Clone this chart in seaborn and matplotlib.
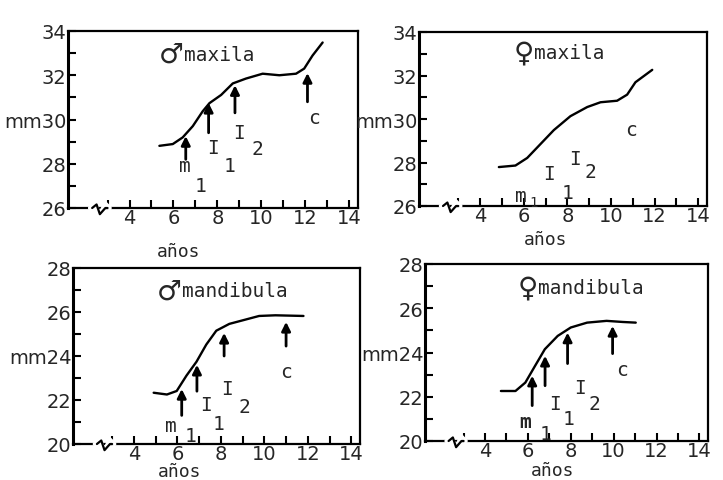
import matplotlib
matplotlib.use("Agg")
import matplotlib.pyplot as plt
import matplotlib.transforms as mtrans
import seaborn as sns
import pandas as pd

sns.set_style("ticks")
plt.rcParams['font.family'] = ['DejaVu Sans']

# ---------------- data ----------------
# male maxila
mmax_x = [5.36, 5.97, 6.42, 6.88, 7.33, 7.64, 8.17, 8.70, 9.30, 10.06, 10.82, 11.58, 11.95, 12.33, 12.79]
mmax_y = [28.81, 28.89, 29.19, 29.70, 30.37, 30.74, 31.11, 31.63, 31.85, 32.07, 32.0, 32.07, 32.3, 32.89, 33.48]
mmax_arrow_x = [6.56, 7.6, 8.8, 12.1]
mmax_arrow_base = [28.2, 29.4, 30.3, 30.8]
mmax_arrow_tip = [29.25, 30.75, 31.55, 32.1]

# female maxila
fmax_x = [4.86, 5.62, 6.16, 6.77, 7.38, 8.14, 8.91, 9.52, 10.28, 10.74, 11.12, 11.89]
fmax_y = [27.79, 27.86, 28.21, 28.85, 29.49, 30.13, 30.55, 30.77, 30.84, 31.12, 31.69, 32.26]
fmax_arrow_x = []
fmax_arrow_base = []
fmax_arrow_tip = []

# male mandibula
mman_x = [4.91, 5.52, 5.97, 6.42, 6.88, 7.33, 7.79, 8.39, 9.0, 9.76, 10.51, 11.8]
mman_y = [22.33, 22.25, 22.41, 23.11, 23.74, 24.52, 25.15, 25.46, 25.62, 25.82, 25.85, 25.82]
mman_arrow_x = [6.2, 6.9, 8.15, 11.0]
mman_arrow_base = [21.3, 22.4, 24.0, 24.45]
mman_arrow_tip = [22.5, 23.6, 25.05, 25.55]

# female mandibula
fman_x = [4.74, 5.42, 5.88, 6.33, 6.79, 7.39, 8.0, 8.76, 9.67, 10.42, 11.03]
fman_y = [22.26, 22.26, 22.64, 23.39, 24.15, 24.75, 25.13, 25.35, 25.43, 25.38, 25.35]
fman_arrow_x = [6.2, 6.8, 7.85, 9.95]
fman_arrow_base = [21.6, 22.5, 23.5, 23.95]
fman_arrow_tip = [22.95, 23.85, 24.9, 25.2]

# tooth labels (text, x, y)
label_texts = ["m", "1", "I", "1", "I", "2", "c"]
mmax_lab_x = [6.5, 7.25, 7.8, 8.55, 9.0, 9.8, 12.4]
mmax_lab_y = [27.9, 27.0, 28.75, 27.9, 29.4, 28.7, 30.1]
fmax_lab_x = [5.85, 6.45, 7.15, 8.0, 8.35, 9.05, 10.9]
fmax_lab_y = [26.5, 26.2, 27.5, 26.6, 28.2, 27.6, 29.5]
mman_lab_x = [5.7, 6.6, 7.3, 7.9, 8.3, 9.1, 11.0]
mman_lab_y = [20.85, 20.4, 21.8, 20.95, 22.5, 21.7, 23.3]
fman_lab_x = [5.85, 6.8, 7.25, 7.9, 8.45, 9.1, 10.4]
fman_lab_y = [20.9, 20.35, 21.7, 21.0, 22.4, 21.7, 23.25]

titles_symbol = ["\u2642", "\u2640", "\u2642", "\u2640"]
titles_word = ["maxila", "maxila", "mandibula", "mandibula"]

x_ticklabels = ["4", "6", "8", "10", "12", "14"]
x_ticks = [4, 6, 8, 10, 12, 14]
max_yticks = [26, 28, 30, 32, 34]
max_yticklabels = ["26", "28", "mm30", "32", "34"]
man_yticks = [20, 22, 24, 26, 28]
man_yticklabels = ["20", "22", "mm24", "26", "28"]
xlabel = "años"

# ---------------- figure ----------------
fig = plt.figure(figsize=(7.23, 4.81), dpi=100)
W, H = 723, 481
boxes = [(68, 32, 358, 209), (419, 33, 707, 207), (73, 269, 360, 445), (425, 265, 708, 442)]
xlabel_pos = [(0.38, -0.243), (0.44, -0.19), (0.37, -0.153), (0.45, -0.164)]
title_pos = [(0.40, 0.87), (0.40, 0.88), (0.38, 0.87), (0.40, 0.87)]

panels = [
    (mmax_x, mmax_y, mmax_arrow_x, mmax_arrow_base, mmax_arrow_tip, mmax_lab_x, mmax_lab_y, (26, 34), max_yticks, max_yticklabels),
    (fmax_x, fmax_y, fmax_arrow_x, fmax_arrow_base, fmax_arrow_tip, fmax_lab_x, fmax_lab_y, (26, 34), max_yticks, max_yticklabels),
    (mman_x, mman_y, mman_arrow_x, mman_arrow_base, mman_arrow_tip, mman_lab_x, mman_lab_y, (20, 28), man_yticks, man_yticklabels),
    (fman_x, fman_y, fman_arrow_x, fman_arrow_base, fman_arrow_tip, fman_lab_x, fman_lab_y, (20, 28), man_yticks, man_yticklabels),
]

for i, (cx, cy, ax_x, ab, at, lx, ly, ylim, yt, ytl) in enumerate(panels):
    l, t, r, b = boxes[i]
    ax = fig.add_axes([l / W, 1 - b / H, (r - l) / W, (b - t) / H])
    df = pd.DataFrame({"x": cx, "y": cy})
    sns.lineplot(data=df, x="x", y="y", ax=ax, color="black", lw=1.7, sort=False)
    for line in ax.lines:
        line.set_solid_joinstyle("round")
        line.set_solid_capstyle("round")
    for xa, y0, y1 in zip(ax_x, ab, at):
        ax.annotate("", xy=(xa, y1), xytext=(xa, y0),
                    arrowprops=dict(arrowstyle="-|>", color="black", lw=2.0,
                                    mutation_scale=13, shrinkA=0, shrinkB=0))
    for k, (txt, x, y) in enumerate(zip(label_texts, lx, ly)):
        small = (k == 1 and i == 1)
        ax.text(x, y, txt, ha="center", va="center", family="DejaVu Sans Mono",
                fontsize=10 if small else 14,
                fontweight="bold" if (i == 3 and k == 0) else "normal")
    tx, ty = title_pos[i]
    ax.text(tx, ty, titles_symbol[i], transform=ax.transAxes, ha="right", va="center",
            fontsize=20, fontweight="bold" if i in (0, 2) else "normal", family="DejaVu Sans")
    ax.text(tx, ty, titles_word[i], transform=ax.transAxes, ha="left", va="center",
            fontsize=14, family="DejaVu Sans Mono")

    ax.set_xlim(1.2, 14.4)
    ax.set_ylim(*ylim)
    ax.set_xticks(x_ticks)
    ax.set_xticklabels(x_ticklabels)
    ax.set_xticks(list(range(3, 15)), minor=True)
    ax.set_yticks(yt)
    ax.set_yticklabels(ytl)
    ax.set_yticks(list(range(ylim[0] + 1, ylim[1], 2)), minor=True)
    ax.tick_params(axis="both", which="both", direction="in", width=1.5, color="black",
                   labelsize=14, pad=1, length=6)
    ax.tick_params(axis="x", which="major", pad=0)
    ax.set_xlabel(xlabel, fontsize=13, family="DejaVu Sans Mono")
    ax.xaxis.label.set_va("center")
    ax.xaxis.set_label_coords(*xlabel_pos[i])
    ax.set_ylabel("")
    for s in ax.spines.values():
        s.set_linewidth(1.6)
        s.set_color("black")
        s.set_visible(True)
    ax.spines["left"].set_linewidth(2.2)
    # axis break mark
    trans = mtrans.blended_transform_factory(ax.transData, ax.transAxes)
    ax.plot([2.2, 2.5, 2.65, 2.9, 3.1], [0, 0, -0.035, 0.025, 0], transform=trans,
            color="white", lw=3, clip_on=False, zorder=5)
    ax.plot([2.3, 2.5, 2.65, 2.9, 3.0], [0, 0.02, -0.035, 0.0, 0.0], transform=trans,
            color="black", lw=1.6, clip_on=False, zorder=6)

fig.savefig("out.png", dpi=100)
